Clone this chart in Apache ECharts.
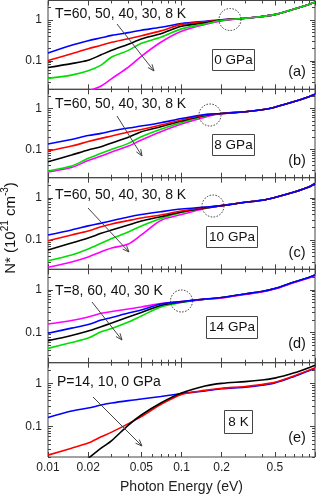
<!DOCTYPE html>
<html><head><meta charset="utf-8">
<script src="https://cdn.jsdelivr.net/npm/echarts@6/dist/echarts.min.js"></script>
<style>html,body{margin:0;padding:0;background:#fff}#c{width:316px;height:496px}</style>
</head><body><div id="c"></div>
<script>
// ---------------- DATA ----------------
const energies = [0.01,0.015,0.02,0.025,0.03,0.04,0.05,0.07,0.1,0.15,0.2,0.3,0.4,0.5,0.7,0.9,1.0];
// (a) 0 GPa
const a_60K = [0.155,0.24,0.31,0.365,0.42,0.49,0.56,0.66,0.82,0.93,1.01,1.1,1.22,1.35,1.85,2.4,2.7];
const a_50K = [0.101,0.149,0.197,0.239,0.284,0.345,0.41,0.54,0.78,0.90,1.0,1.1,1.22,1.35,1.85,2.4,2.7];
const a_40K = [0.0685,0.085,0.103,0.14,0.18,0.254,0.34,0.46,0.70,0.85,0.99,1.1,1.22,1.35,1.85,2.4,2.7];
const a_30K = [0.037,0.0445,0.057,0.078,0.124,0.18,0.268,0.376,0.605,0.80,0.98,1.1,1.22,1.35,1.85,2.4,2.7];
const a_8K  = [null,null,0.018,0.024,0.0365,0.07,0.129,0.284,0.526,0.78,0.95,1.1,1.22,1.35,1.85,2.4,2.7];
// (b) 8 GPa
const b_60K = [0.135,0.174,0.218,0.247,0.282,0.334,0.374,0.45,0.572,0.72,0.76,0.84,0.94,1.09,1.5,1.98,2.28];
const b_50K = [0.0906,0.12,0.155,0.186,0.212,0.266,0.307,0.396,0.526,0.70,0.76,0.84,0.94,1.09,1.5,1.98,2.28];
const b_40K = [0.0494,0.0723,0.096,0.116,0.143,0.197,0.271,0.36,0.497,0.68,0.76,0.84,0.94,1.09,1.5,1.98,2.28];
const b_30K = [0.0292,0.0387,0.06,0.0796,0.0998,0.14,0.204,0.31,0.456,0.66,0.76,0.84,0.94,1.09,1.5,1.98,2.28];
const b_8K  = [0.0276,0.0356,0.0529,0.068,0.0857,0.12,0.169,0.271,0.42,0.62,0.76,0.84,0.94,1.09,1.5,1.98,2.28];
// (c) 10 GPa
const c_60K = [0.131,0.172,0.215,0.25,0.285,0.35,0.40,0.467,0.54,0.60,0.65,0.78,0.87,1.02,1.37,1.8,2.18];
const c_50K = [0.0957,0.131,0.163,0.206,0.238,0.288,0.331,0.39,0.485,0.588,0.65,0.78,0.87,1.02,1.37,1.8,2.18];
const c_40K = [0.0575,0.0843,0.111,0.143,0.172,0.226,0.28,0.356,0.46,0.572,0.65,0.78,0.87,1.02,1.37,1.8,2.18];
const c_30K = [0.032,0.0437,0.0607,0.083,0.108,0.154,0.214,0.322,0.447,0.572,0.65,0.78,0.87,1.02,1.37,1.8,2.18];
const c_8K  = [0.0223,0.0298,0.0392,0.0524,0.064,0.0798,0.131,0.29,0.40,0.556,0.65,0.78,0.87,1.02,1.37,1.8,2.18];
// (d) 14 GPa
const d_8K  = [0.159,0.192,0.232,0.283,0.311,0.356,0.396,0.478,0.532,0.60,0.645,0.78,0.885,1.04,1.48,1.88,2.15];
const d_60K = [0.0966,0.128,0.155,0.197,0.226,0.287,0.337,0.466,0.532,0.61,0.66,0.80,0.91,1.07,1.52,1.93,2.21];
const d_40K = [0.065,0.086,0.109,0.138,0.168,0.232,0.295,0.43,0.519,0.605,0.66,0.80,0.91,1.07,1.52,1.93,2.21];
const d_30K = [0.0431,0.059,0.075,0.105,0.125,0.177,0.245,0.396,0.505,0.60,0.66,0.80,0.91,1.07,1.52,1.93,2.21];
// (e) 8 K
const e_14GPa = [0.164,0.23,0.27,0.316,0.352,0.40,0.435,0.497,0.583,0.666,0.75,0.82,0.91,1.02,1.45,1.95,2.2];
const e_10GPa = [0.0221,0.032,0.0419,0.0586,0.075,0.118,0.171,0.325,0.557,0.69,0.77,0.85,0.945,1.06,1.5,2.02,2.29];
const e_0GPa  = [null,null,0.0185,0.032,0.0479,0.109,0.186,0.352,0.598,0.87,1.0,1.1,1.2,1.32,1.75,2.3,2.62];

// tick values
const xMajorTicks = [0.01,0.02,0.05,0.1,0.2,0.5,1];
const xMinorTicks = [0.03,0.04,0.06,0.07,0.08,0.09,0.3,0.4,0.6,0.7,0.8,0.9];
const xTickLabels = [0.01,0.02,0.05,0.1,0.2,0.5];
const yMajorTicks = [0.1,1];
const yMinorTicks = [0.02,0.03,0.04,0.05,0.06,0.07,0.08,0.09,0.2,0.3,0.4,0.5,0.6,0.7,0.8,0.9,2];
const yTickLabels = [0.1,1];
const xRange = [0.01,1];
const yRange = [0.02,3];

// ---------------- LAYOUT ----------------
const BLUE='#0000ff', RED='#ff0000', BLACK='#000000', GREEN='#00dd00', MAGENTA='#ff00ff';
const FONT = '"Liberation Sans", Arial, Helvetica, sans-serif';
const panels = [
  {top:0.5, bottom:89.3, lines:[[a_60K,BLUE],[a_50K,RED],[a_40K,BLACK],[a_8K,MAGENTA],[a_30K,GREEN]]},
  {top:89.3, bottom:177.7, lines:[[b_8K,MAGENTA],[b_30K,GREEN],[b_40K,BLACK],[b_50K,RED],[b_60K,BLUE]]},
  {top:177.7, bottom:269.3, lines:[[c_8K,MAGENTA],[c_30K,GREEN],[c_40K,BLACK],[c_50K,RED],[c_60K,BLUE]]},
  {top:269.3, bottom:362.7, lines:[[d_30K,GREEN],[d_40K,BLACK],[d_8K,MAGENTA],[d_60K,BLUE]]},
  {top:362.7, bottom:457, lines:[[e_14GPa,BLUE],[e_10GPa,RED],[e_0GPa,BLACK]]}
];
const lg = v => Math.log10(v);
const fmt = v => String(parseFloat(Math.pow(10, v).toPrecision(3)));
const TICK = '#444';

const grids=[], xAxes=[], yAxes=[], series=[];
panels.forEach((p,i)=>{
  grids.push({left:48, width:267, top:p.top, height:p.bottom-p.top, show:true,
    borderColor:'#444', borderWidth:1, backgroundColor:'rgba(0,0,0,0)', containLabel:false});
  const last = i===panels.length-1;
  const mkX = (pos, ticks, len, withLabels) => {
    const ax = {type:'value', gridIndex:i, position:pos, min:lg(xRange[0]), max:lg(xRange[1]),
      axisLine:{show:false, onZero:false}, splitLine:{show:false},
      axisTick:{show:true, inside:true, length:len, customValues:ticks.map(lg), lineStyle:{color:TICK,width:1}},
      axisLabel:{show:false}};
    if (withLabels) {
      ax.axisLabel = {show:true, customValues:xTickLabels.map(lg), formatter:fmt,
        fontSize:12, color:'#222', margin:5, fontFamily:FONT};
      ax.name = 'Photon Energy (eV)'; ax.nameLocation='middle'; ax.nameGap=23;
      ax.nameTextStyle = {fontSize:14, color:'#222', fontFamily:FONT};
    }
    return ax;
  };
  const mkY = (pos, ticks, len, withLabels) => {
    const ax = {type:'value', gridIndex:i, position:pos, min:lg(yRange[0]), max:lg(yRange[1]),
      axisLine:{show:false, onZero:false}, splitLine:{show:false},
      axisTick:{show:true, inside:true, length:len, customValues:ticks.map(lg), lineStyle:{color:TICK,width:1}},
      axisLabel:{show:false}};
    if (withLabels) {
      ax.axisLabel = {show:true, customValues:yTickLabels.map(lg), formatter:fmt,
        fontSize:12, color:'#222', margin:6, fontFamily:FONT};
    }
    return ax;
  };
  xAxes.push(mkX('bottom', xMajorTicks, 5, last), mkX('bottom', xMinorTicks, 3, false),
             mkX('top', xMajorTicks, 5, false), mkX('top', xMinorTicks, 3, false));
  yAxes.push(mkY('left', yMajorTicks, 5, true), mkY('left', yMinorTicks, 3, false),
             mkY('right', yMajorTicks, 5, false), mkY('right', yMinorTicks, 3, false));
  p.lines.forEach(([vals,color])=>{
    const data=[];
    energies.forEach((e,k)=>{ if (vals[k]!=null) data.push([lg(e), lg(vals[k])]); });
    series.push({type:'line', xAxisIndex:4*i, yAxisIndex:4*i, data, symbol:'none', showSymbol:false,
      smooth:0.3, clip:true, silent:true, lineStyle:{color, width:1.6}, z:2});
  });
});

// ---------------- ANNOTATIONS ----------------
const labelsT = [
  {text:'T=60, 50, 40, 30, 8 K', x:55, y:14},
  {text:'T=60, 50, 40, 30, 8 K', x:55, y:104},
  {text:'T=60, 50, 40, 30, 8 K', x:55, y:195},
  {text:'T=8, 60, 40, 30 K', x:55, y:291},
  {text:'P=14, 10, 0 GPa', x:57, y:382}
];
const arrows = [[117,24,154,71],[117,116,142,156],[88,208,129,252],[92,302,122,340],[93,397,142,446]];
const circles = [[230,19.5],[210,115],[213,206],[181.5,301]];
const boxes = [
  {text:'0 GPa', x:212, y:49, w:42, h:21},
  {text:'8 GPa', x:212, y:134, w:42, h:21},
  {text:'10 GPa', x:206, y:226, w:51, h:21},
  {text:'14 GPa', x:206, y:316, w:51, h:22},
  {text:'8 K', x:224, y:410, w:28, h:23}
];
const letters = [['(a)',297,72],['(b)',297,161],['(c)',297,253],['(d)',297,344],['(e)',297,438]];

const g=[];
const txt=(text,x,y,size,align)=>({type:'text', x, y, z:100, silent:true,
  style:{text, fontSize:size, fontFamily:FONT, fill:'#111', align:align||'left', verticalAlign:'middle',
         textAlign:align||'left', textVerticalAlign:'middle'}});
labelsT.forEach(l=>g.push(txt(l.text,l.x,l.y,14)));
arrows.forEach(([x1,y1,x2,y2])=>{
  const a=Math.atan2(y2-y1,x2-x1), L=7, w=0.38;
  g.push({type:'line', z:100, silent:true, shape:{x1,y1,x2,y2}, style:{stroke:'#444',lineWidth:1}});
  g.push({type:'polyline', z:100, silent:true, shape:{points:[[x2-L*Math.cos(a-w),y2-L*Math.sin(a-w)],[x2,y2],[x2-L*Math.cos(a+w),y2-L*Math.sin(a+w)]]},
    style:{stroke:'#444',lineWidth:1,fill:null}});
});
circles.forEach(([cx,cy])=>g.push({type:'circle', z:100, silent:true, shape:{cx,cy,r:11},
  style:{fill:null, stroke:'#333', lineWidth:1, lineDash:[1.5,1.5]}}));
boxes.forEach(b=>{
  g.push({type:'rect', z:100, silent:true, shape:{x:b.x+0.5,y:b.y+0.5,width:b.w,height:b.h},
    style:{fill:'#fff', stroke:'#444', lineWidth:1}});
  g.push(txt(b.text, b.x+b.w/2+0.5, b.y+b.h/2+0.5, 13.5, 'center'));
});
letters.forEach(([t,x,y])=>g.push(txt(t,x,y,14.5,'center')));
g.push({type:'text', x:9, y:228, rotation:Math.PI/2, z:100, silent:true,
  style:{text:'{n|N* (10}{s|21}{n| cm}{s|-3}{n|)}', fontFamily:FONT, fill:'#111',
    align:'center', verticalAlign:'middle', textAlign:'center', textVerticalAlign:'middle',
    rich:{n:{fontSize:15, fontFamily:FONT, fill:'#111', lineHeight:18, verticalAlign:'bottom'},
          s:{fontSize:10, fontFamily:FONT, fill:'#111', lineHeight:18, verticalAlign:'top'}}}});

const chart = echarts.init(document.getElementById('c'), null, {renderer:'canvas'});
chart.setOption({animation:false, backgroundColor:'#fff', grid:grids, xAxis:xAxes, yAxis:yAxes, series, graphic:{elements:g}});
</script></body></html>
